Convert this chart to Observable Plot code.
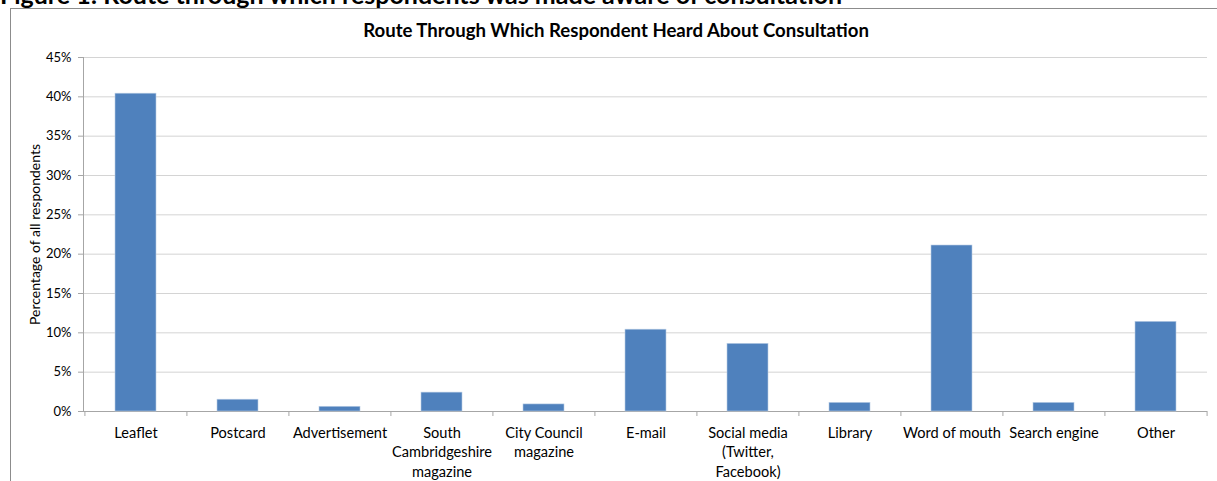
<!DOCTYPE html>
<html>
<head>
<meta charset="utf-8">
<script src="https://cdn.jsdelivr.net/npm/d3@7"></script>
<script src="https://cdn.jsdelivr.net/npm/@observablehq/plot@0.6"></script>
<style>
  html, body { margin: 0; padding: 0; background: #fff; overflow: hidden; width: 1217px; height: 481px; }
  #page { position: relative; width: 1217px; height: 481px; overflow: hidden; font-family: Lato, "Open Sans", sans-serif; }
  #heading { position: absolute; left: 0; top: -18px; line-height: 25px; font-weight: bold; font-size: 25px; white-space: nowrap; color: #000; }
  #box { position: absolute; left: 10px; top: 8px; width: 1300px; height: 600px; border: 1px solid #8c8c8c; box-sizing: border-box; }
  #title { position: absolute; left: 0; width: 1232px; top: 19px; text-align: center; font-weight: bold; font-size: 18.6px; color: #000; }
  #chart { position: absolute; left: 0; top: 0; }
</style>
</head>
<body>
<div id="page">
  <div id="heading">Figure 1: Route through which respondents was made aware of consultation</div>
  <div id="box"></div>
  <div id="title">Route Through Which Respondent Heard About Consultation</div>
  <div id="chart"></div>
</div>
<script>
const categories = ["Leaflet", "Postcard", "Advertisement", "South Cambridgeshire magazine", "City Council magazine", "E-mail", "Social media (Twitter, Facebook)", "Library", "Word of mouth", "Search engine", "Other"];
const tickLabels = ["Leaflet", "Postcard", "Advertisement", "South\nCambridgeshire\nmagazine", "City Council\nmagazine", "E-mail", "Social media\n(Twitter,\nFacebook)", "Library", "Word of mouth", "Search engine", "Other"];
const values = [40.4, 1.5, 0.6, 2.4, 0.9, 10.4, 8.6, 1.1, 21.1, 1.1, 11.4];
const yTicks = [0, 5, 10, 15, 20, 25, 30, 35, 40, 45];
const yLabel = "Percentage of all respondents";

const data = categories.map((c, i) => ({category: c, value: values[i]}));
const labelOf = new Map(categories.map((c, i) => [c, tickLabels[i]]));

const W = 1217, H = 481;
const mL = 83, mR = 10, mT = 57, mB = 70;
const step = (W - mL - mR) / categories.length;
const axisGray = "#a6a6a6";

const chart = Plot.plot({
  width: W,
  height: H,
  marginLeft: mL,
  marginRight: mR,
  marginTop: mT,
  marginBottom: mB,
  style: {fontFamily: "Lato, 'Open Sans', sans-serif", fontSize: "14px", color: "#000", background: "transparent", overflow: "visible"},
  x: {domain: categories, paddingInner: 0.6, paddingOuter: 0.3, label: null},
  y: {domain: [0, 45], label: null},
  marks: [
    Plot.gridY(yTicks, {stroke: "#d4d4d4", strokeOpacity: 1, strokeWidth: 1}),
    Plot.frame({anchor: "left", stroke: axisGray}),
    Plot.ruleY([0], {stroke: axisGray}),
    Plot.barY(data, {x: "category", y: "value", fill: "#4f81bd", stroke: "#b9cde5", strokeWidth: 0.6}),
    Plot.axisY(yTicks, {
      tickFormat: d => d + "%",
      tickSize: 5,
      tickPadding: 7,
      stroke: axisGray,
      fontSize: 13,
      label: null
    }),
    Plot.text([yLabel], {frameAnchor: "left", textAnchor: "middle", rotate: -90, dx: -48, fontSize: 14, fill: "#000"}),
    Plot.axisX({tickSize: 0, tickPadding: 12, tickFormat: d => labelOf.get(d), lineHeight: 1.36, fontSize: 14.6}),
    Plot.axisX({tickSize: 5, tickFormat: () => "", stroke: axisGray, dx: -step / 2}),
    Plot.axisX([categories[categories.length - 1]], {tickSize: 5, tickFormat: () => "", stroke: axisGray, dx: step / 2})
  ]
});
document.getElementById("chart").appendChild(chart);
</script>
</body>
</html>
